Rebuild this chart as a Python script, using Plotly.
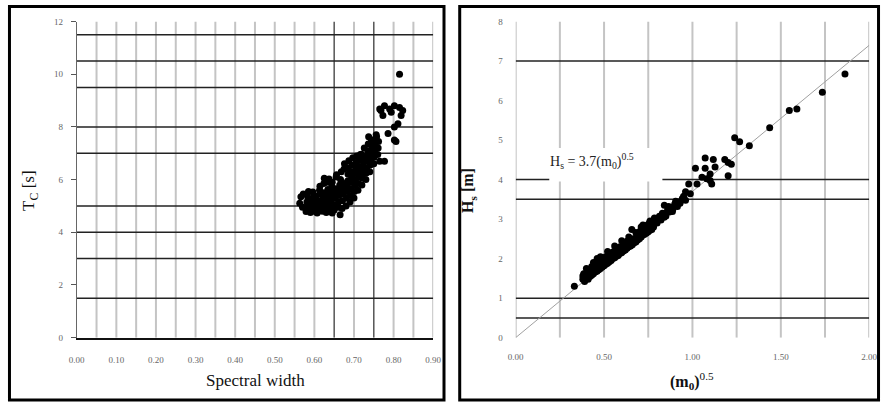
import plotly.graph_objects as go

# ---------------- data ----------------
# Left panel: spectral width vs Tc
spectral_width = [
    0.563, 0.566, 0.570, 0.572,
    0.579, 0.580, 0.581, 0.583, 0.585,
    0.590, 0.591, 0.592, 0.594,
    0.596, 0.600, 0.600, 0.601, 0.602, 0.603,
    0.607, 0.610, 0.611, 0.612, 0.613, 0.614, 0.615,
    0.620, 0.620, 0.621, 0.622, 0.623, 0.624, 0.625,
    0.630, 0.630, 0.631, 0.632, 0.633, 0.634, 0.635, 0.636,
    0.637, 0.640, 0.641, 0.642, 0.643, 0.644, 0.645,
    0.645, 0.650, 0.651, 0.652, 0.653, 0.654, 0.655, 0.656,
    0.660, 0.661, 0.662, 0.663, 0.664, 0.665, 0.666,
    0.668, 0.670, 0.671, 0.672, 0.673, 0.674, 0.675, 0.676,
    0.680, 0.681, 0.682, 0.683, 0.684, 0.685, 0.686, 0.687,
    0.690, 0.691, 0.692, 0.693, 0.694, 0.695, 0.696, 0.697,
    0.700, 0.701, 0.702, 0.703, 0.704, 0.705, 0.706, 0.707,
    0.710, 0.711, 0.712, 0.713, 0.714, 0.715, 0.716,
    0.719, 0.720, 0.721, 0.722, 0.723, 0.724, 0.725, 0.726,
    0.730, 0.731, 0.732, 0.733, 0.734, 0.735, 0.736, 0.737,
    0.740, 0.741, 0.742, 0.743, 0.744, 0.745, 0.746,
    0.750, 0.751, 0.752, 0.753, 0.754, 0.756, 0.757,
    0.760, 0.761, 0.762, 0.765, 0.777,
    0.765, 0.768, 0.773, 0.777, 0.786, 0.790, 0.794, 0.802, 0.802, 0.802,
    0.806, 0.811, 0.815, 0.815, 0.819, 0.823,
]
tc = [
    5.10, 5.35, 4.95, 5.45,
    4.79, 4.95, 5.15, 5.35, 5.55,
    4.75, 4.90, 5.05, 5.25,
    5.53, 4.80, 5.40, 4.95, 5.10, 5.30,
    4.73, 4.90, 5.05, 5.20, 5.60, 5.75, 5.45,
    4.80, 5.00, 5.15, 5.30, 5.50, 5.85, 6.05,
    4.75, 4.92, 5.10, 5.25, 5.40, 5.62, 5.90, 4.79,
    6.02, 4.95, 5.20, 5.35, 5.52, 5.72, 4.73,
    5.90, 4.85, 5.05, 5.30, 5.45, 5.65, 6.10, 6.18,
    4.95, 5.15, 5.40, 5.60, 5.80, 4.67, 6.00,
    6.30, 4.90, 5.20, 5.45, 5.65, 5.85, 6.40, 6.60,
    5.00, 5.30, 5.55, 5.75, 5.95, 6.20, 6.45, 6.72,
    5.15, 5.40, 5.65, 5.90, 6.10, 6.30, 6.55, 6.83,
    5.30, 5.55, 5.80, 6.00, 6.25, 6.45, 6.65, 6.90,
    5.60, 5.85, 6.10, 6.30, 6.50, 6.75, 6.95,
    6.96, 5.80, 6.05, 6.25, 6.45, 6.65, 6.85, 7.20,
    6.00, 6.25, 6.45, 6.70, 6.90, 7.10, 7.35, 7.63,
    6.30, 6.55, 6.75, 6.95, 7.50, 7.15, 7.40,
    6.60, 6.85, 7.05, 7.30, 7.55, 7.70, 7.63,
    6.95, 7.20, 7.45, 6.70, 6.70,
    8.68, 8.62, 8.43, 8.80, 7.75, 8.68, 8.56, 8.80, 8.00, 7.50,
    7.45, 8.12, 8.74, 10.00, 8.43, 8.62,
]

# Right panel: (m0)^0.5 vs Hs
m0_sqrt = [
    0.332, 0.38, 0.38, 0.385, 0.40, 0.40, 0.405, 0.42, 0.42, 0.425, 0.43,
    0.44, 0.44, 0.445, 0.45, 0.46, 0.46, 0.461, 0.465, 0.47,
    0.48, 0.48, 0.485, 0.49, 0.50, 0.50, 0.505, 0.51,
    0.52, 0.52, 0.525, 0.53, 0.54, 0.54, 0.545, 0.55,
    0.56, 0.56, 0.565, 0.57, 0.58, 0.58, 0.585, 0.59,
    0.60, 0.60, 0.605, 0.61, 0.62, 0.62, 0.625, 0.63,
    0.64, 0.64, 0.645, 0.657, 0.66, 0.66, 0.665, 0.68, 0.68, 0.685,
    0.70, 0.70, 0.705, 0.71, 0.72, 0.72, 0.725, 0.74, 0.74, 0.745,
    0.757, 0.76, 0.765, 0.78, 0.785, 0.79, 0.80, 0.80, 0.813, 0.822,
    0.82, 0.83, 0.841, 0.84, 0.85, 0.86, 0.865, 0.869, 0.88, 0.887,
    0.90, 0.905, 0.915, 0.924, 0.943, 0.961, 0.961, 0.979, 0.988,
    1.017, 1.026, 1.054, 1.072, 1.072, 1.081, 1.10, 1.10, 1.109, 1.118, 1.128,
    1.183, 1.202, 1.202, 1.220, 1.239, 1.267, 1.322, 1.437, 1.548, 1.591, 1.735, 1.863,
    0.39, 0.41, 0.43, 0.45, 0.47, 0.49, 0.51, 0.53, 0.55, 0.57,
    0.59, 0.61, 0.63, 0.65, 0.67, 0.69, 0.71, 0.73, 0.75, 0.77,
    0.40, 0.44, 0.48, 0.52, 0.56, 0.60, 0.64, 0.68, 0.72, 0.76,
    0.85, 0.87, 0.89, 0.91, 0.93, 0.95,
]
hs = [
    1.30, 1.48, 1.56, 1.62, 1.50, 1.60, 1.68, 1.55, 1.65, 1.72, 1.80,
    1.62, 1.70, 1.78, 1.85, 1.68, 1.76, 2.00, 1.84, 1.93,
    1.75, 1.83, 1.90, 1.98, 1.82, 1.90, 1.97, 2.05,
    1.88, 1.96, 2.03, 2.10, 1.95, 2.03, 2.10, 2.17,
    2.02, 2.10, 2.16, 2.24, 2.08, 2.16, 2.24, 2.30,
    2.15, 2.22, 2.30, 2.37, 2.22, 2.30, 2.37, 2.44,
    2.30, 2.37, 2.44, 2.74, 2.35, 2.44, 2.50, 2.42, 2.50, 2.58,
    2.50, 2.60, 2.70, 2.80, 2.60, 2.70, 2.80, 2.65, 2.75, 2.85,
    2.91, 2.72, 2.80, 2.80, 3.03, 2.90, 2.90, 3.00, 3.07, 2.98,
    3.05, 3.15, 3.35, 3.05, 3.15, 3.25, 3.32, 3.28, 3.30, 3.19,
    3.38, 3.45, 3.32, 3.44, 3.52, 3.69, 3.48, 3.89, 3.64,
    4.29, 3.89, 4.06, 4.55, 4.29, 4.02, 3.98, 4.14, 3.89, 4.51, 4.32,
    4.51, 4.43, 4.10, 4.39, 5.06, 4.96, 4.86, 5.31, 5.75, 5.79, 6.21, 6.67,
    1.42, 1.48, 1.58, 1.66, 1.72, 1.79, 1.86, 1.92, 2.00, 2.06,
    2.13, 2.19, 2.26, 2.32, 2.40, 2.47, 2.55, 2.62, 2.68, 2.74,
    1.75, 1.90, 2.05, 2.18, 2.32, 2.45, 2.55, 2.66, 2.85, 2.95,
    3.08, 3.18, 3.26, 3.34, 3.40, 3.58,
]
fit_x = [0.0, 2.0]
fit_y = [0.0, 7.4]  # Hs = 3.7 (m0)^0.5

# tick labels / reference lines
left_xticks = [0.0, 0.1, 0.2, 0.3, 0.4, 0.5, 0.6, 0.7, 0.8, 0.9]
left_xticklabels = ["0.00", "0.10", "0.20", "0.30", "0.40", "0.50", "0.60", "0.70", "0.80", "0.90"]
left_yticks = [0, 2, 4, 6, 8, 10, 12]
left_grey_v = [0.05, 0.10, 0.15, 0.20, 0.25, 0.30, 0.35, 0.40, 0.45, 0.50, 0.55, 0.60,
               0.70, 0.80, 0.85, 0.90]
left_dark_v = [0.65, 0.75]
left_h = [1.5, 3, 4, 5, 7, 8, 9.5, 10.5, 11.5]

right_xticks = [0.0, 0.5, 1.0, 1.5, 2.0]
right_xticklabels = ["0.00", "0.50", "1.00", "1.50", "2.00"]
right_yticks = [0, 1, 2, 3, 4, 5, 6, 7, 8]
right_grey_v = [0.0, 0.25, 0.5, 0.75, 1.0, 1.25, 1.5, 1.75, 2.0]
right_h = [0.5, 1, 3.5, 4, 7]

# ---------------- figure ----------------
W, H = 888, 408
SERIF = "Liberation Serif"


def px(xp):
    return xp / W


def py(yp):
    return 1 - yp / H


fig = go.Figure()

fig.add_trace(go.Scatter(
    x=fit_x, y=fit_y, xaxis="x2", yaxis="y2", mode="lines",
    line=dict(color="#a0a0a0", width=1), hoverinfo="skip", showlegend=False))
fig.add_trace(go.Scatter(
    x=spectral_width, y=tc, xaxis="x", yaxis="y", mode="markers",
    marker=dict(color="black", size=7), showlegend=False))
fig.add_trace(go.Scatter(
    x=m0_sqrt, y=hs, xaxis="x2", yaxis="y2", mode="markers",
    marker=dict(color="black", size=7), showlegend=False))

shapes = []
for v in left_grey_v:
    shapes.append(dict(type="line", xref="x", yref="y", x0=v, x1=v, y0=0, y1=12,
                       line=dict(color="#c4c4c4", width=2), layer="below"))
for v in left_dark_v:
    shapes.append(dict(type="line", xref="x", yref="y", x0=v, x1=v, y0=0, y1=12,
                       line=dict(color="#555555", width=1.5), layer="below"))
for h in left_h:
    shapes.append(dict(type="line", xref="x", yref="y", x0=0, x1=0.9, y0=h, y1=h,
                       line=dict(color="#222222", width=1.5), layer="below"))
for v in right_grey_v:
    shapes.append(dict(type="line", xref="x2", yref="y2", x0=v, x1=v, y0=0, y1=8,
                       line=dict(color="#c4c4c4", width=2), layer="below"))
for h in right_h:
    shapes.append(dict(type="line", xref="x2", yref="y2", x0=0, x1=2.0, y0=h, y1=h,
                       line=dict(color="#222222", width=1.5), layer="below"))
# white box behind the equation label
shapes.append(dict(type="rect", xref="x2", yref="y2", x0=0.19, x1=0.83, y0=3.95, y1=4.8,
                   fillcolor="white", line=dict(width=0), layer="below"))
# panel frames
shapes.append(dict(type="rect", xref="paper", yref="paper",
                   x0=px(1.5), x1=px(444), y0=py(405), y1=py(1.5),
                   line=dict(color="black", width=3)))
shapes.append(dict(type="rect", xref="paper", yref="paper",
                   x0=px(460), x1=px(886.5), y0=py(405), y1=py(1.5),
                   line=dict(color="black", width=3)))

tickfont = dict(family=SERIF, size=9, color="#666666")

fig.update_layout(
    width=W, height=H,
    margin=dict(l=0, r=0, t=0, b=0),
    paper_bgcolor="white", plot_bgcolor="white",
    showlegend=False,
    xaxis=dict(domain=[px(70), px(433)], range=[0, 0.9], tickvals=left_xticks,
               ticktext=left_xticklabels, showgrid=False, zeroline=False,
               showline=True, linecolor="#111111", linewidth=1.5, ticks="",
               tickfont=tickfont, ticklabelstandoff=13, anchor="y"),
    yaxis=dict(domain=[py(341), py(17)], range=[0, 12], tickvals=left_yticks,
               showgrid=False, zeroline=False, showline=True, linecolor="#666666",
               linewidth=1, ticks="outside", ticklen=5, tickcolor="#555555",
               tickfont=tickfont, ticklabelstandoff=6, anchor="x"),
    xaxis2=dict(domain=[px(517), px(877)], range=[0, 2.0], tickvals=right_xticks,
                ticktext=right_xticklabels, showgrid=False, zeroline=False,
                showline=False, ticks="", tickfont=tickfont, ticklabelstandoff=12,
                anchor="y2"),
    yaxis2=dict(domain=[py(341), py(17)], range=[0, 8], tickvals=right_yticks,
                showgrid=False, zeroline=False, showline=False, ticks="",
                tickfont=tickfont, ticklabelstandoff=12, anchor="x2"),
    shapes=shapes,
    annotations=[
        dict(text="Spectral width", xref="paper", yref="paper", x=px(252), y=py(385),
             xanchor="center", yanchor="middle", showarrow=False,
             font=dict(family=SERIF, size=17, color="#111111")),
        dict(text="T<sub>C</sub> [s]", xref="paper", yref="paper", x=px(23), y=py(190),
             xanchor="center", yanchor="middle", textangle=-90, showarrow=False,
             font=dict(family=SERIF, size=17, color="#111111")),
        dict(text="<b>(m<sub>0</sub>)</b><sup>0.5</sup>", xref="paper", yref="paper",
             x=px(697), y=py(385), xanchor="center", yanchor="middle", showarrow=False,
             font=dict(family=SERIF, size=16, color="#111111")),
        dict(text="<b>H<sub>s</sub> [m]</b>", xref="paper", yref="paper", x=px(469),
             y=py(190), xanchor="center", yanchor="middle", textangle=-90,
             showarrow=False, font=dict(family=SERIF, size=16, color="#111111")),
        dict(text="H<sub>s</sub> = 3.7(m<sub>0</sub>)<sup>0.5</sup>", xref="x2", yref="y2",
             x=0.43, y=4.47, xanchor="center", yanchor="middle", showarrow=False,
             font=dict(family=SERIF, size=14, color="#222222")),
    ],
)

fig.write_html("out.html")
